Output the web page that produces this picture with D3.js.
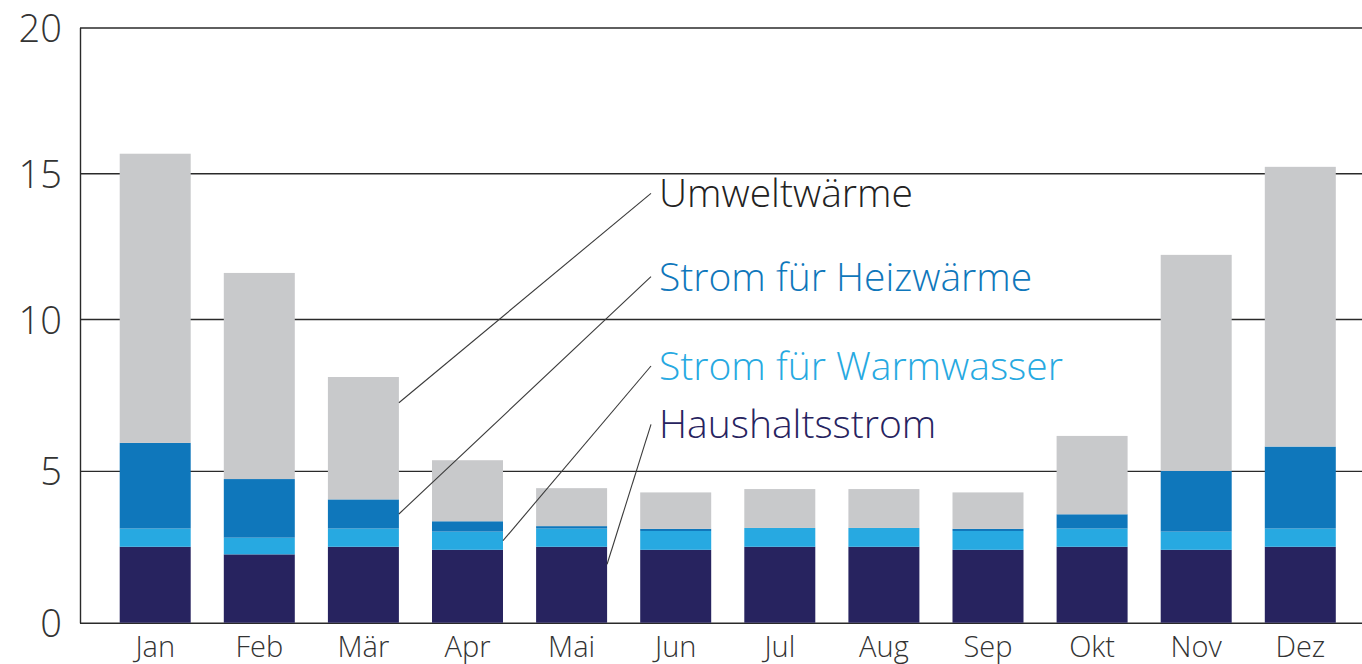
<!DOCTYPE html>
<html><head><meta charset="utf-8">
<script src="https://cdn.jsdelivr.net/npm/d3@7"></script>
<style>
body{margin:0;background:#fff}
text{font-family:"Open Sans","Noto Sans",sans-serif}
</style>
</head><body>
<svg id="chart" width="1362" height="664"></svg>
<script>
// ---- data ----
const months = ["Jan","Feb","Mär","Apr","Mai","Jun","Jul","Aug","Sep","Okt","Nov","Dez"];
const haushaltsstrom   = [2.5, 2.25, 2.5, 2.4, 2.5, 2.4, 2.5, 2.5, 2.4, 2.5, 2.4, 2.5];
const stromWarmwasser  = [0.6, 0.55, 0.6, 0.6, 0.6, 0.62, 0.62, 0.62, 0.62, 0.6, 0.6, 0.6];
const stromHeizwaerme  = [2.82, 1.93, 0.96, 0.34, 0.08, 0.07, 0, 0, 0.07, 0.47, 2.0, 2.7];
const umweltwaerme     = [9.75, 6.85, 4.03, 2.01, 1.25, 1.2, 1.28, 1.28, 1.2, 2.58, 7.2, 9.42];
const yTicks = [0, 5, 10, 15, 20];
const seriesKeys   = ["haushalt", "warmwasser", "heiz", "umwelt"];
const seriesLabels = ["Haushaltsstrom", "Strom für Warmwasser", "Strom für Heizwärme", "Umweltwärme"];
// label callouts: which month bar each leader line points to
const calloutMonths = ["Mai", "Apr", "Mär", "Mär"];

// ---- style / layout ----
const colors = {haushalt:"#27235f", warmwasser:"#27a9e1", heiz:"#0f77bb", umwelt:"#c8c9cb"};
const labelColors = {haushalt:"#27235f", warmwasser:"#27a9e1", heiz:"#0f77bb", umwelt:"#222222"};
const calloutFrac = [0.77, 0.5, 0.5, 0.79];      // position along the segment
const labelBaselines = [438.3, 380, 290.7, 207.3];
const labelX = 659;
const plotLeft = 80, plotRight = 1362;

const table = months.map((m, i) => ({
  month: m,
  haushalt: haushaltsstrom[i],
  warmwasser: stromWarmwasser[i],
  heiz: stromHeizwaerme[i],
  umwelt: umweltwaerme[i]
}));
const stacked = d3.stack().keys(seriesKeys)(table);

const svg = d3.select("#chart");

const y = d3.scaleLinear().domain([0, 10, 20]).range([622.7, 319, 27.5]);
const x = d3.scaleBand().domain(months).range([103.15, 1352.35])
  .paddingInner(0.318).paddingOuter(0.159);

// y axis with gridlines
const yAxis = svg.append("g")
  .attr("transform", `translate(${plotLeft},0)`)
  .call(d3.axisLeft(y).tickValues(yTicks).tickSize(-(plotRight - plotLeft)).tickSizeOuter(0).tickPadding(18));
yAxis.select(".domain").attr("stroke", "#2a2a2a").attr("stroke-width", 1.4);
yAxis.selectAll(".tick line").attr("stroke", "#2a2a2a").attr("stroke-width", 1.4);
yAxis.selectAll(".tick text").attr("font-size", 38).attr("dy", "0.37em")
  .attr("fill", "#333").attr("font-weight", 300);

// bars
svg.append("g").selectAll("g")
  .data(stacked).join("g")
  .attr("fill", d => colors[d.key])
  .selectAll("rect")
  .data(d => d).join("rect")
  .attr("x", d => x(d.data.month))
  .attr("width", x.bandwidth())
  .attr("y", d => y(d[1]))
  .attr("height", d => Math.max(0, y(d[0]) - y(d[1])));

// x axis labels
const xAxis = svg.append("g")
  .attr("transform", `translate(0,${y(0)})`)
  .call(d3.axisBottom(x).tickSize(0).tickPadding(14));
xAxis.select(".domain").remove();
xAxis.selectAll(".tick text").attr("font-size", 29).attr("fill", "#333").attr("font-weight", 300);

// callout labels and leader lines
const ann = svg.append("g");
seriesKeys.forEach((key, i) => {
  const layer = stacked[i];
  const mi = months.indexOf(calloutMonths[i]);
  const seg = layer[mi];
  const vy = y(seg[0] + (seg[1] - seg[0]) * calloutFrac[i]);
  const vx = x(calloutMonths[i]) + x.bandwidth();
  ann.append("line")
    .attr("x1", labelX - 8).attr("y1", labelBaselines[i] - 14)
    .attr("x2", vx).attr("y2", vy)
    .attr("stroke", "#3a3a3a").attr("stroke-width", 1.1);
  ann.append("text")
    .attr("x", labelX).attr("y", labelBaselines[i])
    .attr("font-size", 39).attr("font-weight", 300)
    .attr("fill", labelColors[key])
    .text(seriesLabels[i]);
});
</script>
</body></html>
